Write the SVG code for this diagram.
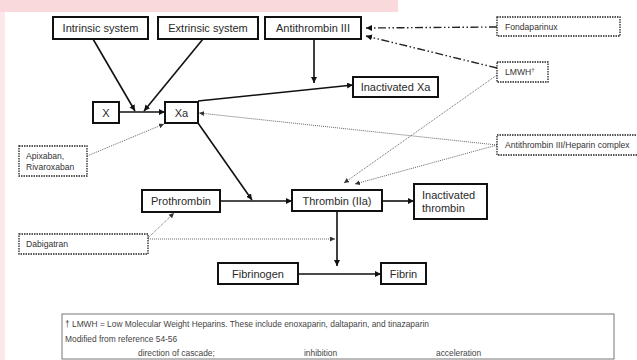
<svg xmlns="http://www.w3.org/2000/svg" width="637" height="360" viewBox="0 0 637 360">
<style>
.box{fill:#fff;stroke:#111;stroke-width:2}
.dbox{fill:#fff;stroke:#222;stroke-width:1.3;stroke-dasharray:1.5 1}
.t{font-family:"Liberation Sans",Arial,sans-serif;font-size:11px;fill:#2a2a2a}
.s{font-family:"Liberation Sans",Arial,sans-serif;font-size:8.6px;fill:#333}
.l{font-family:"Liberation Sans",Arial,sans-serif;font-size:8.4px;fill:#444}
.solid{stroke:#111;stroke-width:1.6;fill:none}
.dot{stroke:#666;stroke-width:1;stroke-dasharray:1 1;fill:none}
.ddot{stroke:#222;stroke-width:1.4;stroke-dasharray:8 2.5 1.5 2.5 1.5 2.5;fill:none}
</style>
<defs>
<marker id="a" viewBox="0 0 10 10" refX="10" refY="5" markerWidth="6" markerHeight="6" markerUnits="userSpaceOnUse" orient="auto">
<path d="M0,0 L10,5 L0,10 z" fill="#111"/>
</marker>
<marker id="ad" viewBox="0 0 10 10" refX="10" refY="5" markerWidth="5" markerHeight="5" markerUnits="userSpaceOnUse" orient="auto">
<path d="M0,0 L10,5 L0,10 z" fill="#333"/>
</marker>
</defs>
<rect x="0" y="0" width="637" height="360" fill="#fff"/>
<g id="background">
<rect x="0" y="0" width="398" height="12" fill="#f9d9dc"/>
<rect x="0" y="12" width="5" height="348" fill="#fce8ea"/>
</g>
<g id="connectors">
<line class="solid" x1="93" y1="39" x2="135" y2="111" marker-end="url(#a)"/>
<line class="solid" x1="203" y1="39" x2="144" y2="111" marker-end="url(#a)"/>
<line class="solid" x1="119" y1="112" x2="165" y2="112" marker-end="url(#a)"/>
<line class="solid" x1="314" y1="39" x2="314" y2="83" marker-end="url(#a)"/>
<line class="solid" x1="198" y1="101" x2="353" y2="85" marker-end="url(#a)"/>
<line class="ddot" x1="497" y1="27" x2="366" y2="28" marker-end="url(#a)"/>
<line class="ddot" x1="497" y1="68" x2="366" y2="36" marker-end="url(#a)"/>
<line class="dot" x1="497" y1="75" x2="344" y2="183" marker-end="url(#ad)"/>
<line class="dot" x1="497" y1="145" x2="199" y2="113" marker-end="url(#ad)"/>
<line class="dot" x1="497" y1="145" x2="355" y2="184" marker-end="url(#ad)"/>
<line class="dot" x1="87" y1="156" x2="164" y2="124" marker-end="url(#ad)"/>
<line class="solid" x1="198" y1="123" x2="252" y2="200" marker-end="url(#a)"/>
<line class="solid" x1="220" y1="201" x2="292" y2="201" marker-end="url(#a)"/>
<line class="dot" x1="148" y1="238" x2="174" y2="213" marker-end="url(#ad)"/>
<line class="dot" x1="148" y1="239" x2="335" y2="239" marker-end="url(#ad)"/>
<line class="solid" x1="382" y1="201" x2="414" y2="201" marker-end="url(#a)"/>
<line class="solid" x1="337" y1="211" x2="337" y2="266" marker-end="url(#a)"/>
<line class="solid" x1="298" y1="274" x2="381" y2="274" marker-end="url(#a)"/>
</g>
<g id="intrinsic"><rect class="box" x="53" y="17" width="95" height="22"/><text class="t" x="100.5" y="32" text-anchor="middle">Intrinsic system</text></g>
<g id="extrinsic"><rect class="box" x="158" y="17" width="100" height="22"/><text class="t" x="208" y="32" text-anchor="middle">Extrinsic system</text></g>
<g id="antithrombin"><rect class="box" x="265" y="17" width="96" height="22"/><text class="t" x="313" y="32" text-anchor="middle">Antithrombin III</text></g>
<g id="fondaparinux"><rect class="dbox" x="497" y="17" width="123" height="19"/><text class="s" x="505" y="30">Fondaparinux</text></g>
<g id="lmwh"><rect class="dbox" x="497" y="62" width="51" height="20"/><text class="s" x="505" y="75">LMWH<tspan font-size="6" dy="-3">†</tspan></text></g>
<g id="inactivated-xa"><rect class="box" x="353" y="77" width="85" height="20" stroke-width="2.4"/><text class="t" x="395.5" y="91" text-anchor="middle">Inactivated Xa</text></g>
<g id="x"><rect class="box" x="93" y="102" width="26" height="21"/><text class="t" x="106" y="116.5" text-anchor="middle">X</text></g>
<g id="xa"><rect class="box" x="165" y="102" width="33" height="21"/><text class="t" x="181.5" y="116.5" text-anchor="middle">Xa</text></g>
<g id="apixaban"><rect class="dbox" x="19" y="146" width="68" height="30"/><text class="s" x="26" y="159">Apixaban,</text><text class="s" x="26" y="170">Rivaroxaban</text></g>
<g id="at-heparin"><rect class="dbox" x="497" y="135" width="145" height="20"/><text class="s" x="505" y="148">Antithrombin III/Heparin complex</text></g>
<g id="prothrombin"><rect class="box" x="142" y="190" width="78" height="22"/><text class="t" x="181" y="205" text-anchor="middle">Prothrombin</text></g>
<g id="thrombin"><rect class="box" x="292" y="190" width="90" height="21"/><text class="t" x="337" y="204.5" text-anchor="middle">Thrombin (IIa)</text></g>
<g id="inactivated-thrombin"><rect class="box" x="414" y="184" width="73" height="35"/><text class="t" x="422" y="199">Inactivated</text><text class="t" x="422" y="212">thrombin</text></g>
<g id="dabigatran"><rect class="dbox" x="19" y="234" width="129" height="20"/><text class="s" x="26" y="247">Dabigatran</text></g>
<g id="fibrinogen"><rect class="box" x="218" y="263" width="80" height="21"/><text class="t" x="258" y="277.5" text-anchor="middle">Fibrinogen</text></g>
<g id="fibrin"><rect class="box" x="381" y="263" width="45" height="21"/><text class="t" x="403.5" y="277.5" text-anchor="middle">Fibrin</text></g>
<g id="legend">
<rect x="62" y="314" width="552" height="45" fill="#fff" stroke="#777" stroke-width="1"/>
<text class="l" x="65" y="327">† LMWH = Low Molecular Weight Heparins. These include enoxaparin, daltaparin, and tinazaparin</text>
<text class="l" x="65" y="341.5">Modified from reference 54-56</text>
<text class="l" x="138" y="356">direction of cascade;</text>
<text class="l" x="304" y="356">inhibition</text>
<text class="l" x="436" y="356">acceleration</text>
</g>
</svg>
